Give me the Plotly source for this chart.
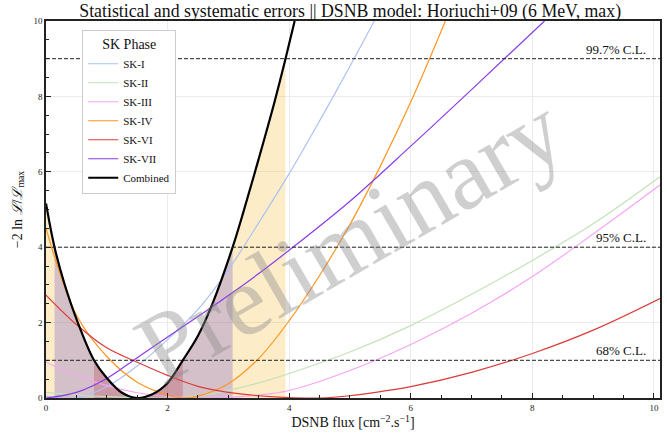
import plotly.graph_objects as go

# ---------------- data ----------------
sk1_x = [0.0, 0.5, 1.0, 1.5, 2.0, 2.5, 3.0, 3.5, 4.0, 4.5, 5.0, 5.4]
sk1_y = [0.05, 0.0, 0.3, 0.85, 1.55, 2.35, 3.4, 4.65, 5.95, 7.35, 8.8, 10.0]

sk2_x = [0.0, 0.5, 1.0, 1.5, 2.0, 2.5, 3.0, 3.5, 4.0, 5.0, 6.0, 7.0, 8.0, 9.0, 10.1]
sk2_y = [0.15, 0.08, 0.035, 0.01, 0.0, 0.06, 0.2, 0.4, 0.65, 1.22, 1.92, 2.75, 3.65, 4.62, 5.87]

sk3_x = [0.0, 0.5, 1.0, 1.5, 2.0, 2.5, 3.0, 3.5, 4.0, 5.0, 6.0, 7.0, 8.0, 9.0, 10.1]
sk3_y = [0.95, 0.6, 0.33, 0.14, 0.04, 0.0, 0.02, 0.08, 0.2, 0.73, 1.42, 2.25, 3.22, 4.35, 5.65]

sk4_x = [0.0, 0.5, 1.0, 1.5, 2.0, 2.25, 2.5, 3.0, 3.5, 4.0, 4.5, 5.0, 5.5, 6.0, 6.57]
sk4_y = [4.5, 2.2, 1.1, 0.42, 0.08, 0.0, 0.05, 0.38, 1.05, 2.05, 3.25, 4.6, 6.15, 7.85, 10.0]

sk6_x = [0.0, 0.5, 1.0, 1.5, 2.0, 2.5, 3.0, 3.5, 4.0, 4.5, 5.0, 5.5, 6.0, 7.0, 8.0, 9.0, 10.1]
sk6_y = [2.73, 1.95, 1.33, 0.95, 0.6, 0.31, 0.15, 0.06, 0.01, 0.0, 0.06, 0.17, 0.3, 0.68, 1.18, 1.8, 2.64]

sk7_x = [0.0, 0.5, 1.0, 1.5, 2.0, 2.5, 3.0, 3.5, 4.0, 5.0, 6.0, 7.0, 8.2]
sk7_y = [0.0, 0.15, 0.52, 1.07, 1.62, 2.16, 2.72, 3.3, 3.92, 5.22, 6.68, 8.18, 10.0]

comb_x = [0.0, 0.14, 0.3, 0.5, 0.79, 1.0, 1.25, 1.5, 1.75, 2.0, 2.25, 2.5, 2.75, 3.07, 3.25, 3.5, 3.75, 3.94, 4.09]
comb_y = [5.16, 4.0, 3.05, 2.1, 1.0, 0.53, 0.14, 0.0, 0.1, 0.4, 1.0, 1.65, 2.55, 4.0, 4.95, 6.35, 7.8, 9.0, 10.0]

series_names = ["SK-I", "SK-II", "SK-III", "SK-IV", "SK-VI", "SK-VII"]
series_colors = ["#adc2f2", "#c2e2b8", "#f5a5f5", "#ff9520", "#dd3b3b", "#8a3be8"]

cl_levels = [9, 4, 1]
cl_labels = ["99.7% C.L.", "95% C.L.", "68% C.L."]
cl_lo = [0.0, 0.14, 0.79]
cl_hi = [3.94, 3.07, 2.25]
cl_fill = ["rgba(247,179,35,0.25)", "rgba(90,60,200,0.25)", "rgba(180,40,60,0.25)"]

FONT = "Liberation Serif"

fig = go.Figure()

# confidence-level fills under the combined curve
for lo, hi, col in zip(cl_lo, cl_hi, cl_fill):
    xs = [x for x in comb_x if lo <= x <= hi]
    ys = [y for x, y in zip(comb_x, comb_y) if lo <= x <= hi]
    fig.add_trace(go.Scatter(x=xs, y=ys, mode="lines", line=dict(width=0, shape="spline"),
                             fill="tozeroy", fillcolor=col, showlegend=False, hoverinfo="skip"))

all_x = [sk1_x, sk2_x, sk3_x, sk4_x, sk6_x, sk7_x]
all_y = [sk1_y, sk2_y, sk3_y, sk4_y, sk6_y, sk7_y]
for name, col, xs, ys in zip(series_names, series_colors, all_x, all_y):
    fig.add_trace(go.Scatter(x=xs, y=ys, mode="lines", name=name,
                             line=dict(color=col, width=1.2, shape="spline")))

fig.add_trace(go.Scatter(x=comb_x, y=comb_y, mode="lines", name="Combined",
                         line=dict(color="black", width=2.2, shape="spline")))

for lvl, lab in zip(cl_levels, cl_labels):
    fig.add_shape(type="line", xref="paper", x0=0, x1=1, yref="y", y0=lvl, y1=lvl,
                  line=dict(color="#222", width=1, dash="4px,2px"))
    fig.add_annotation(xref="paper", x=0.980, y=lvl, yref="y", text=lab, showarrow=False,
                       xanchor="right", yanchor="bottom", yshift=0,
                       font=dict(family=FONT, size=13, color="#111"))

fig.add_annotation(xref="paper", yref="paper", x=0.495, y=0.42, text="Preliminary",
                   showarrow=False, textangle=-30,
                   font=dict(family=FONT, size=100, color="rgba(140,140,140,0.42)"))

axis_common = dict(showline=True, linecolor="#222", linewidth=1.5, mirror=True,
                   ticks="inside", ticklen=5, tickcolor="#222", tickwidth=1,
                   showgrid=True, gridcolor="#ebebeb", gridwidth=1, zeroline=False,
                   automargin=False,
                   tickfont=dict(family=FONT, size=9, color="#222"))

fig.update_xaxes(range=[0, 10.1], dtick=2, tick0=0,
                 minor=dict(dtick=0.5, ticklen=3, ticks="inside", tickcolor="#222", showgrid=False),
                 title=dict(text="DSNB flux [cm<sup>−2</sup>.s<sup>−1</sup>]",
                            font=dict(family=FONT, size=14, color="#111"), standoff=2),
                 **axis_common)
fig.update_yaxes(range=[0, 10], dtick=2, tick0=0,
                 minor=dict(dtick=0.5, ticklen=3, ticks="inside", tickcolor="#222", showgrid=False),
                 title=dict(text="−2 ln <i>ℒ</i>/<i>ℒ</i><sub>max</sub>",
                            font=dict(family=FONT, size=14, color="#111"), standoff=8),
                 **axis_common)

fig.update_layout(
    width=667, height=434,
    margin=dict(l=46, r=7, t=21, b=36),
    paper_bgcolor="white", plot_bgcolor="white",
    title=dict(text="Statistical and systematic errors || DSNB model: Horiuchi+09 (6 MeV, max)",
               x=0.525, xanchor="center", y=0.99, yanchor="top",
               font=dict(family=FONT, size=17.8, color="#111")),
    legend=dict(x=0.059, y=0.976, xanchor="left", yanchor="top",
                bgcolor="white", bordercolor="#cccccc", borderwidth=1,
                font=dict(family=FONT, size=11, color="#111"),
                title=dict(text="SK Phase", side="top center", font=dict(family=FONT, size=14)),
                tracegroupgap=0, itemwidth=30),
    showlegend=True,
)

fig.write_html("out.html", config={"displayModeBar": False},
               post_script="document.body.style.margin='0px';")
